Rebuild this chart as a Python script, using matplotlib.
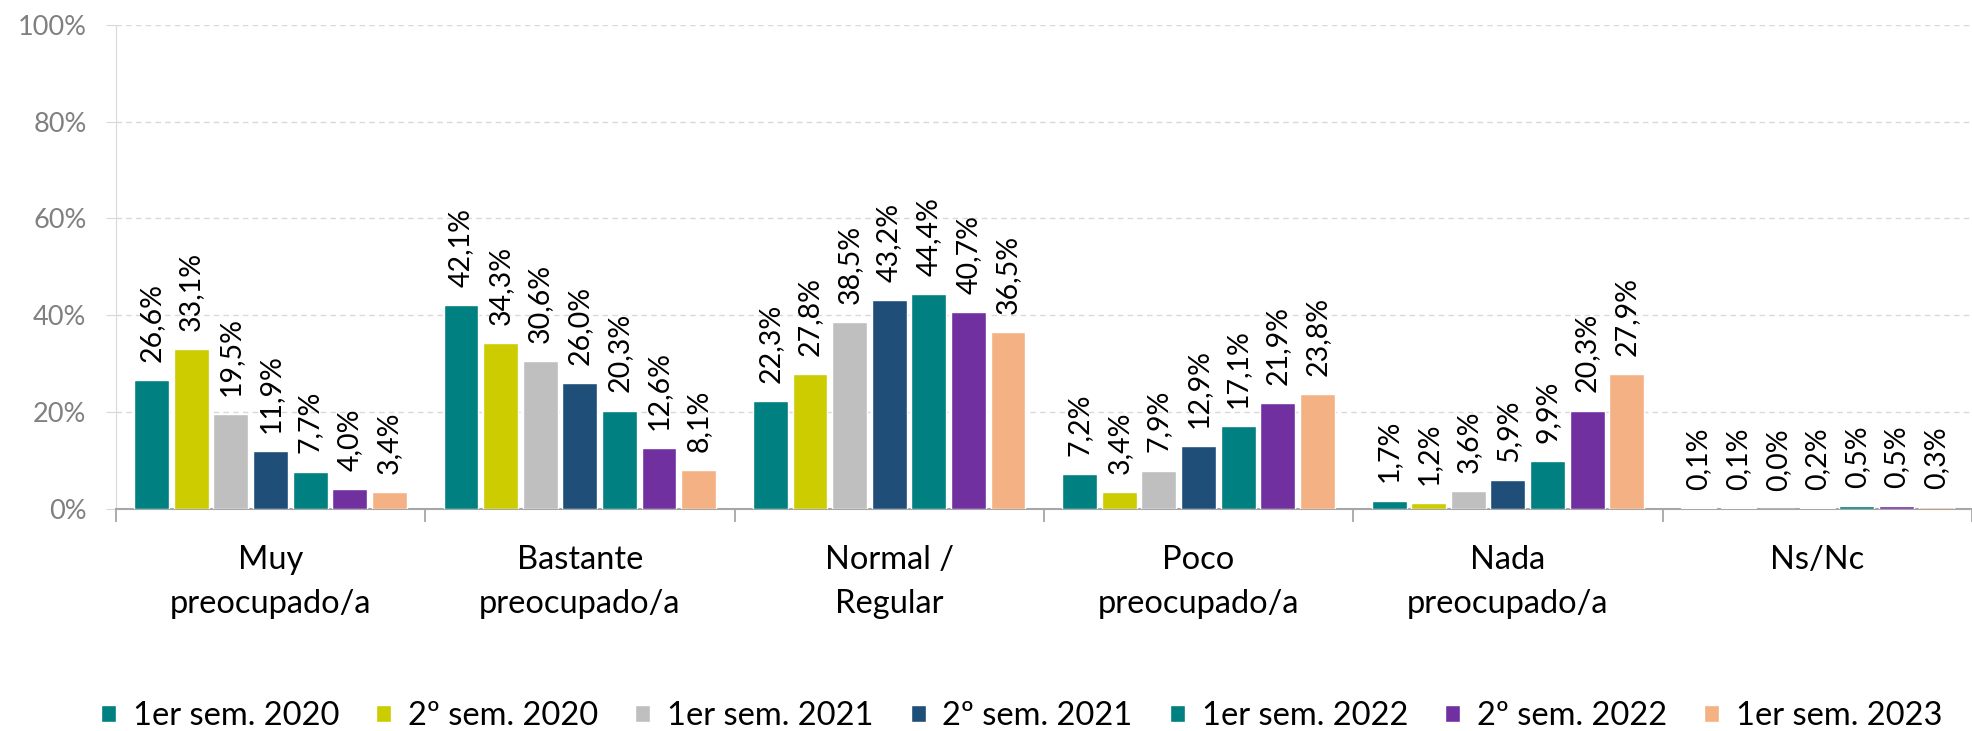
import numpy as np
import matplotlib
matplotlib.use('Agg')
import matplotlib.pyplot as plt
from matplotlib.ticker import FixedLocator, PercentFormatter

plt.rcParams['font.family'] = ['Lato', 'DejaVu Sans']

# Data
categories = ["Muy\npreocupado/a", "Bastante\npreocupado/a", "Normal /\nRegular",
              "Poco\npreocupado/a", "Nada\npreocupado/a", "Ns/Nc"]
series_names = ["1er sem. 2020", "2º sem. 2020", "1er sem. 2021", "2º sem. 2021",
                "1er sem. 2022", "2º sem. 2022", "1er sem. 2023"]
s_1sem2020 = [26.6, 42.1, 22.3, 7.2, 1.7, 0.1]
s_2sem2020 = [33.1, 34.3, 27.8, 3.4, 1.2, 0.1]
s_1sem2021 = [19.5, 30.6, 38.5, 7.9, 3.6, 0.0]
s_2sem2021 = [11.9, 26.0, 43.2, 12.9, 5.9, 0.2]
s_1sem2022 = [7.7, 20.3, 44.4, 17.1, 9.9, 0.5]
s_2sem2022 = [4.0, 12.6, 40.7, 21.9, 20.3, 0.5]
s_1sem2023 = [3.4, 8.1, 36.5, 23.8, 27.9, 0.3]
series_values = [s_1sem2020, s_2sem2020, s_1sem2021, s_2sem2021,
                 s_1sem2022, s_2sem2022, s_1sem2023]
colors = ["#008080", "#cccc00", "#bfbfbf", "#1f4e79", "#008080", "#7030a0", "#f4b183"]

fig = plt.figure(figsize=(19.72, 7.31), dpi=100)
ax = fig.add_axes([0.0587, 0.304, 0.9413, 0.662])

x = np.arange(len(categories))
slot = 0.128
width = 0.113
n = len(series_names)

for i, (name, vals) in enumerate(zip(series_names, series_values)):
    pos = x + (i - (n - 1) / 2) * slot
    bars = ax.bar(pos, vals, width=width, color=colors[i], label=name,
                  edgecolor='white', linewidth=1.0, zorder=3)
    for b, v in zip(bars, vals):
        ax.annotate(f"{v:.1f}%".replace('.', ','),
                    (b.get_x() + b.get_width() / 2, b.get_height()),
                    xytext=(0, 13), textcoords='offset points',
                    rotation=90, ha='center', va='bottom', fontsize=20.5, color='black')

ax.set_ylim(0, 100)
ax.set_xlim(-0.5, 5.43)
ax.yaxis.set_major_locator(FixedLocator([0, 20, 40, 60, 80, 100]))
ax.yaxis.set_major_formatter(PercentFormatter(decimals=0))
ax.tick_params(axis='y', length=7, color='#d9d9d9', labelsize=19.5,
               labelcolor='#808080', pad=14)
ax.grid(axis='y', linestyle=(0, (4, 3)), color='#d9d9d9', linewidth=1, zorder=0)

ax.set_xticks(x)
ax.set_xticklabels(categories, fontsize=23.5, linespacing=1.58)
ax.tick_params(axis='x', which='major', length=0, pad=26)
ax.set_xticks(np.arange(-0.5, 6, 1), minor=True)
ax.tick_params(axis='x', which='minor', length=9, color='#a6a6a6', width=1.3)

for s in ['top', 'right']:
    ax.spines[s].set_visible(False)
ax.spines['left'].set_color('#d9d9d9')
ax.spines['bottom'].set_color('#a6a6a6')
ax.spines['bottom'].set_linewidth(1.5)

leg = fig.legend(loc='center', bbox_to_anchor=(0.518, 0.0205), ncol=7, frameon=False,
                 fontsize=23.5, handlelength=0.46, handleheight=0.46, handletextpad=0.52,
                 columnspacing=1.13, borderpad=0, borderaxespad=0)

fig.savefig("out.png", dpi=100)
